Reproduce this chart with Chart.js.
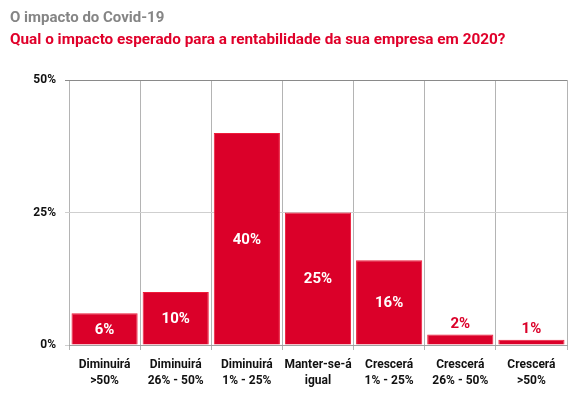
<!DOCTYPE html>
<html>
<head>
<meta charset="utf-8">
<script src="https://cdn.jsdelivr.net/npm/chart.js@4/dist/chart.umd.min.js"></script>
<style>
  body { margin: 0; background: #fff; }
  #wrap { position: relative; width: 583px; height: 398px; }
  .t { position: absolute; left: 10px; font-family: Roboto, sans-serif; font-weight: bold; font-size: 15px; line-height: 15px; white-space: nowrap; }
  #t1 { top: 10px; color: #858585; }
  #t2 { top: 31px; color: #e0002a; font-size: 15.3px; line-height: 16px; }
  canvas { position: absolute; left: 0; top: 0; }
</style>
</head>
<body>
<div id="wrap">
  <canvas id="chart" width="583" height="398"></canvas>
  <div class="t" id="t1">O impacto do Covid-19</div>
  <div class="t" id="t2">Qual o impacto esperado para a rentabilidade da sua empresa em 2020?</div>
</div>
<script>
const categories = [
    ['Diminuirá', '>50%'],
    ['Diminuirá', '26% - 50%'],
    ['Diminuirá', '1% - 25%'],
    ['Manter-se-á', 'igual'],
    ['Crescerá', '1% - 25%'],
    ['Crescerá', '26% - 50%'],
    ['Crescerá', '>50%']
];
const values = [6, 10, 40, 25, 16, 2, 1];
const yTicks = [0, 25, 50];

const RED = '#db0029';

// value labels: inside the bar when it is tall enough, above it otherwise
const barLabels = {
    id: 'barLabels',
    afterDatasetsDraw(chart) {
        const ctx = chart.ctx;
        const meta = chart.getDatasetMeta(0);
        ctx.save();
        ctx.font = 'bold 15px Roboto, sans-serif';
        ctx.textAlign = 'center';
        meta.data.forEach((bar, i) => {
            const text = values[i] + '%';
            const h = bar.base - bar.y;
            if (h > 22) {
                ctx.fillStyle = '#ffffff';
                ctx.textBaseline = 'middle';
                ctx.fillText(text, bar.x, bar.y + h / 2 + 1);
            } else {
                ctx.fillStyle = RED;
                ctx.textBaseline = 'bottom';
                ctx.fillText(text, bar.x, bar.y - 3);
            }
        });
        ctx.restore();
    }
};

const ctx = document.getElementById('chart').getContext('2d');
new Chart(ctx, {
    type: 'bar',
    data: {
        labels: categories,
        datasets: [{
            data: values,
            backgroundColor: RED,
            borderColor: '#ee1c3a',
            borderWidth: 1,
            barPercentage: 0.93,
            categoryPercentage: 1
        }]
    },
    options: {
        responsive: false,
        animation: false,
        layout: { padding: { top: 80, right: 16, left: 0, bottom: 0 } },
        plugins: {
            legend: { display: false },
            tooltip: { enabled: false }
        },
        scales: {
            x: {
                afterFit: s => { s.height = 53; },
                grid: {
                    offset: true,
                    color: '#b4b4b4',
                    tickLength: 5,
                    lineWidth: 1
                },
                border: { color: '#a0a0a0' },
                ticks: {
                    color: '#111',
                    font: { family: 'Roboto, sans-serif', weight: 'bold', size: 12, lineHeight: 1.35 },
                    padding: 7,
                    autoSkip: false,
                    maxRotation: 0
                }
            },
            y: {
                min: 0,
                max: 50,
                afterFit: s => { s.width = 69; },
                afterBuildTicks: s => { s.ticks = yTicks.map(v => ({ value: v })); },
                grid: {
                    color: c => c.tick && c.tick.value === 50 ? '#8a8a8a' : '#cfcfcf',
                    tickLength: 4,
                    lineWidth: 1
                },
                border: { display: false },
                ticks: {
                    color: '#111',
                    font: { family: 'Roboto, sans-serif', weight: 'bold', size: 12 },
                    padding: 9,
                    callback: v => v + '%'
                }
            }
        }
    },
    plugins: [barLabels]
});
</script>
</body>
</html>
